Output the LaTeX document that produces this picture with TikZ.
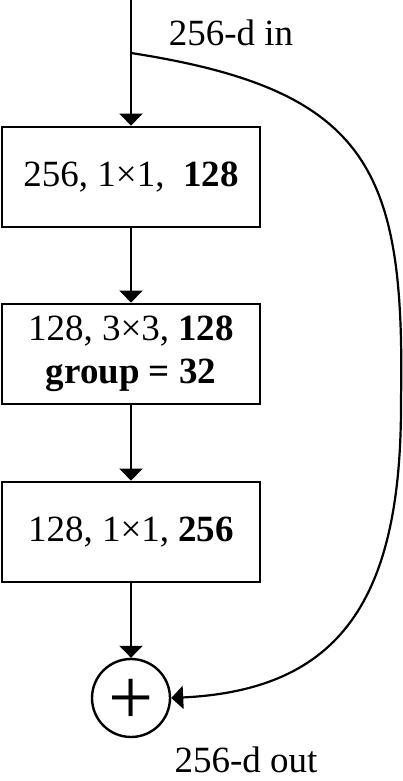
\documentclass[tikz,border=0pt]{standalone}
\usepackage{fontspec}
\setmainfont{Liberation Serif}
\usetikzlibrary{arrows.meta}

\begin{document}
\begin{tikzpicture}[
  x=1pt,
  y=-1pt,
  line cap=butt,
  line join=miter,
  layer/.style={draw=black,line width=2.8pt,minimum width=258pt,
    minimum height=100pt,inner sep=0pt,align=center,
    font=\fontsize{37}{43}\selectfont},
  sumnode/.style={draw=black,circle,line width=2.4pt,minimum size=78pt,
    inner sep=0pt,font=\fontsize{80}{80}\selectfont},
  label/.style={font=\fontsize{37}{43}\selectfont},
  flow/.style={-{Triangle[length=12pt,width=23pt]},line width=2.6pt},
  shortcut/.style={-{Triangle[length=12pt,width=23pt]},line width=2.2pt}
]
  \useasboundingbox (0,0) rectangle (403,781);

  % Input and the three layers of the block
  \coordinate (input) at (131,0);
  \coordinate (branch) at (131,53);
  \node[layer] (convA) at (131,177) {256, 1×1,\ \ \textbf{128}};
  \node[layer] (convB) at (131,354) {128, 3×3, \textbf{128}\\\textbf{group = 32}};
  \node[layer] (convC) at (131,532) {128, 1×1, \textbf{256}};
  \node[sumnode] (sum) at (131,698) {};
  \node[font=\fontsize{80}{80}\selectfont,inner sep=0pt] (plus) at (131,702) {+};

  % Main path
  \draw[flow] (input) -- (convA.north);
  \draw[flow] (convA.south) -- (convB.north);
  \draw[flow] (convB.south) -- (convC.north);
  \draw[flow] (convC.south) -- (sum.north);

  % Identity shortcut
  \coordinate (bend) at (401,400);
  \draw[shortcut] (branch) .. controls (370,90) and (405,170) .. (bend)
    .. controls (402,600) and (340,690) .. (sum.east);

  % Labels
  \node[label] (inlabel) at (231,33) {256-d in};
  \node[label] (outlabel) at (246,760) {256-d out};
\end{tikzpicture}
\end{document}
